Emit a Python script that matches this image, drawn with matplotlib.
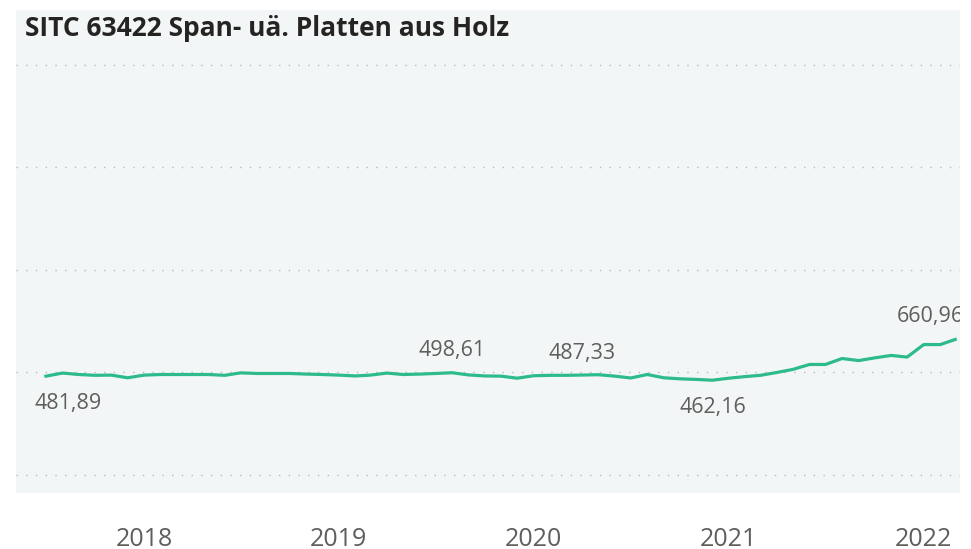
import matplotlib.pyplot as plt
import matplotlib.dates as mdates
import pandas as pd

TITLE = "SITC 63422 Span- uä. Platten aus Holz"

# monthly values, Jul 2017 .. Mar 2022
START_MONTH = "2017-07-01"
values = [481.89, 497, 490, 486, 487, 474,                     # 2017
          487, 490, 490, 490, 490, 486, 498, 495, 495, 495, 492, 490,   # 2018
          487, 483, 487, 497, 490, 492, 495, 498.61, 488, 483, 482, 472,  # 2019
          484, 486, 486, 487.33, 489, 482, 473, 490, 474, 469, 466, 462.16,  # 2020
          472, 480, 486, 500, 515, 539, 539, 568, 558, 571, 583, 575,   # 2021
          636, 636, 660.96]                                    # 2022

# which points carry a data label, and where the label sits (px offset)
label_idx = [0, 25, 33, 41, 56]
label_off = [(22, -27), (0, 22), (0, 22), (0, -27), (-25, 23)]

months = pd.date_range(START_MONTH, periods=len(values), freq="MS")
year_ticks = pd.to_datetime(["2018-01-01", "2019-01-01", "2020-01-01", "2021-01-01", "2022-01-01"])

W, H = 971, 549
fig = plt.figure(figsize=(W / 100, H / 100), dpi=100)
plt.rcParams['font.family'] = ['Open Sans', 'DejaVu Sans']

# plot panel in pixel coords
left, right, top, bottom = 16, 960, 10, 493
ax = fig.add_axes([left / W, 1 - bottom / H, (right - left) / W, (bottom - top) / H])
ax.set_facecolor('#f3f6f7')

ax.plot(months, values, color='#2dbb8b', linewidth=2.3, solid_joinstyle='round', zorder=3)

for i, (dx, dy) in zip(label_idx, label_off):
    txt = f"{values[i]:.2f}".replace('.', ',')
    ax.annotate(txt, (months[i], values[i]), xytext=(dx / 1.389, dy / 1.389),
                textcoords='offset points', ha='center', va='center',
                fontsize=15.5, color='#605e5c', clip_on=True, zorder=4)

ax.set_ylim(-88, 2268)
ax.set_yticks([0, 500, 1000, 1500, 2000])
ax.yaxis.grid(True, linestyle=(0, (1, 6)), color='#b8b8b8', linewidth=1)
ax.tick_params(axis='y', left=False, labelleft=False)

ax.set_xlim(pd.Timestamp("2017-05-06"), pd.Timestamp("2022-03-10"))
ax.set_xticks(year_ticks)
ax.xaxis.set_major_formatter(mdates.DateFormatter('%Y'))
ax.tick_params(axis='x', bottom=False, pad=21, labelsize=18, labelcolor='#605e5c')

for s in ax.spines.values():
    s.set_visible(False)

fig.text(25 / W, 1 - 28 / H, TITLE, fontsize=19, fontweight='bold', color='#252423',
         ha='left', va='center')

fig.savefig('out.png', dpi=100)
